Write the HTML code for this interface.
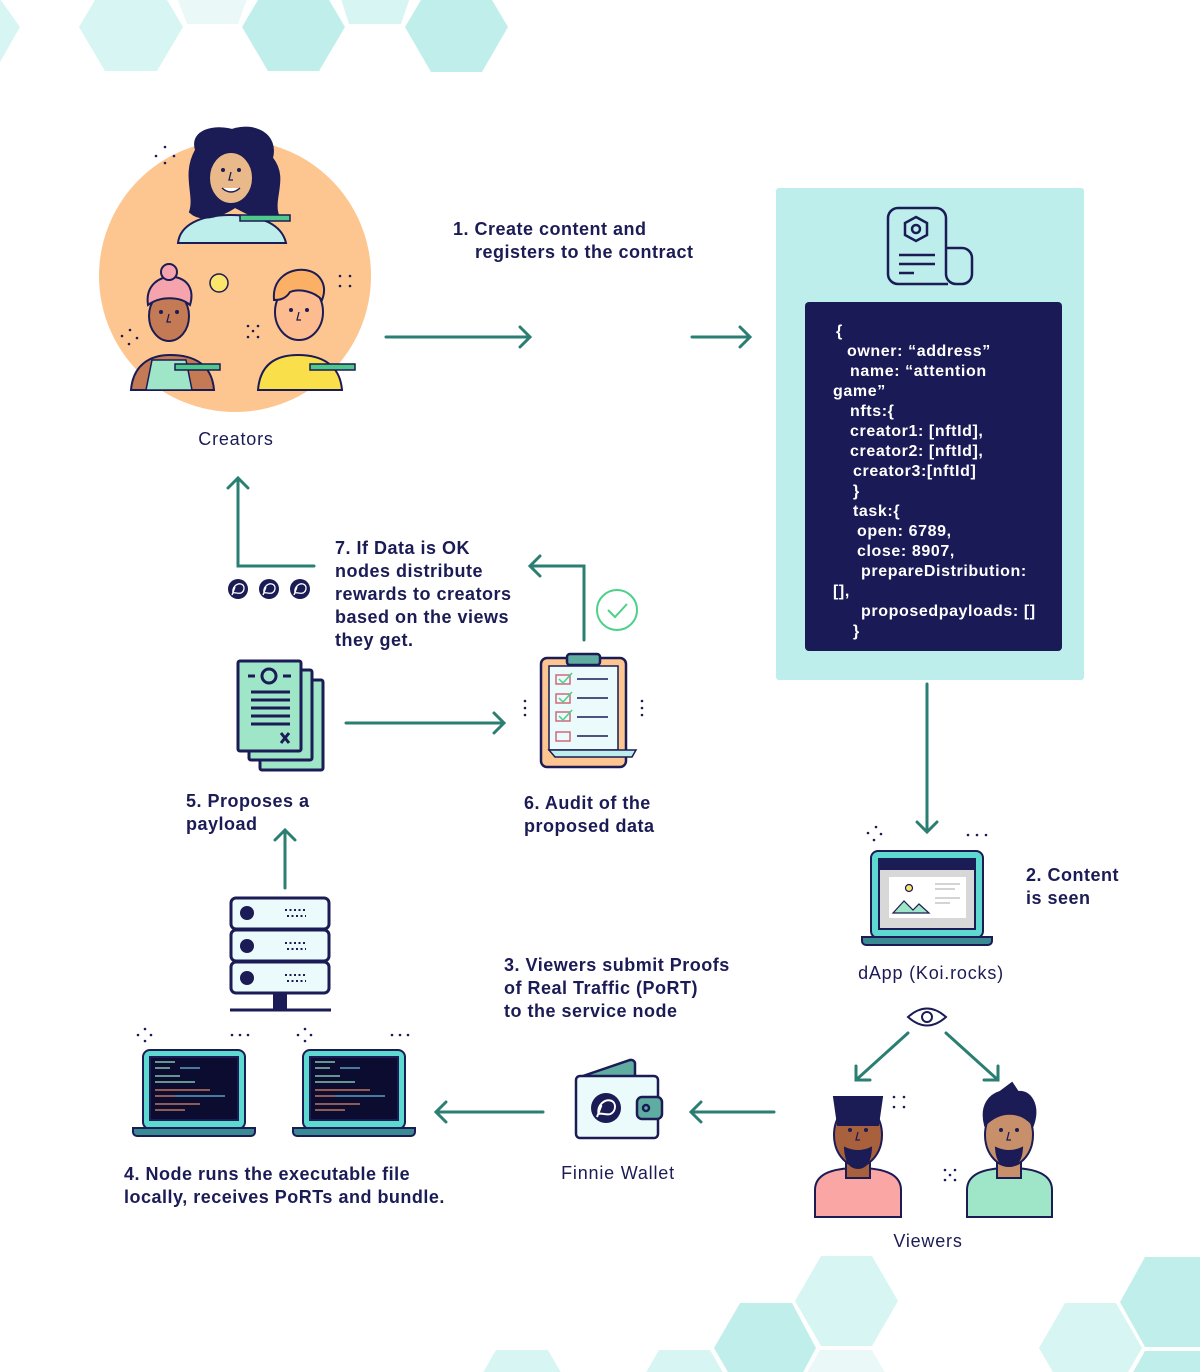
<!DOCTYPE html>
<html><head><meta charset="utf-8"><style>
html,body{margin:0;padding:0;background:#fff;}
svg{display:block;}
text{font-family:"Liberation Sans",sans-serif;fill:#1b1b55;}
.b{font-weight:bold;font-size:18px;letter-spacing:0.5px;}
.n{font-size:18px;letter-spacing:0.8px;}
.c{font-weight:bold;font-size:16px;fill:#fff;letter-spacing:0.6px;}
</style></head><body>
<svg width="1200" height="1372" viewBox="0 0 1200 1372" xmlns="http://www.w3.org/2000/svg">
<defs>
<g id="koi"><circle r="10" fill="#1b1b55"/><path d="M-5,4 C-6,-2 -1,-6 3,-5 C7,-4 7,2 3,4 C0,5 -3,3 -5,4 M-6,6 L-3,-2" stroke="#fff" stroke-width="1.3" fill="none"/></g>
<g id="eyes"><circle cx="-8" cy="0" r="2" fill="#1b1b55"/><circle cx="8" cy="0" r="2" fill="#1b1b55"/><path d="M0,2 L-2,10 H2" stroke="#1b1b55" stroke-width="1.3" fill="none"/></g>
</defs>
<!-- top hexes -->
<polygon points="-10,-20 0,-1 20,27 0,62 -20,27" fill="#d7f5f3"/>
<polygon points="105,-17 157,-17 183,27 157,71 105,71 79,27" fill="#d7f5f3"/>
<polygon points="170,-20 254,-20 238,24 187,24" fill="#eaf9f8"/>
<polygon points="268,-17 319,-17 345,27 319,71 268,71 242,27" fill="#c0efeb"/>
<polygon points="335,-20 416,-20 401,24 349,24" fill="#d7f5f3"/>
<polygon points="431,-17 482,-17 508,27 482,72 431,72 405,27" fill="#c0efeb"/>
<!-- bottom hexes -->
<polygon points="821,1256 872,1256 898,1301 872,1346 821,1346 795,1301" fill="#d7f5f3"/>
<polygon points="740,1303 792,1303 816,1348 792,1393 740,1393 714,1348" fill="#c0efeb"/>
<polygon points="820,1350 872,1350 898,1395 794,1395" fill="#eaf9f8"/>
<polygon points="496,1350 548,1350 574,1395 470,1395" fill="#d7f5f3"/>
<polygon points="659,1350 710,1350 736,1395 633,1395" fill="#d7f5f3"/>
<polygon points="1145,1257 1210,1257 1210,1347 1145,1347 1120,1302" fill="#c0efeb"/>
<polygon points="1065,1303 1116,1303 1142,1348 1116,1393 1065,1393 1039,1348" fill="#d7f5f3"/>
<polygon points="1145,1351 1210,1351 1210,1395 1120,1395" fill="#c0efeb"/>

<!-- Creators circle -->
<circle cx="235" cy="276" r="136" fill="#fdc690"/>
<g stroke="#1b1b55" stroke-width="2">
<!-- woman top -->
<path d="M178,243 C180,225 200,215 230,215 C262,215 282,225 286,243 Z" fill="#bdeeeb"/>
<path d="M196,150 C190,130 215,125 232,130 C255,122 278,135 272,158 C288,178 272,198 278,215 C262,224 246,212 235,207 C224,214 203,224 190,212 C196,195 182,175 196,150Z" fill="#1b1b55"/>
<ellipse cx="231" cy="178" rx="22" ry="26" fill="#e9b98a"/>
<path d="M222,188 Q231,196 240,188" fill="#fff" stroke-width="1.5"/>
<!-- woman left -->
<path d="M131,390 C133,365 150,355 170,355 C195,355 212,365 214,390Z" fill="#c47a55"/>
<path d="M152,360 L186,360 L192,390 L146,390Z" fill="#9fe6c8" stroke-width="1.5"/>
<ellipse cx="169" cy="316" rx="20" ry="25" fill="#c47a55"/>
<path d="M148,305 C145,285 160,275 175,277 C190,280 194,292 190,305 C180,296 160,296 148,305Z" fill="#f5a3ad"/>
<circle cx="169" cy="272" r="8" fill="#f5a3ad"/>
<!-- man right -->
<path d="M258,390 C260,365 275,355 298,355 C322,355 340,365 342,390Z" fill="#f9e04b"/>
<ellipse cx="299" cy="312" rx="24" ry="28" fill="#fdbc90"/>
<path d="M274,300 C272,278 290,268 305,270 C320,272 328,285 322,300 C315,292 300,288 290,292 C285,300 278,300 274,300Z" fill="#fbb066"/>
<!-- pencils -->
<rect x="240" y="215" width="50" height="6" fill="#4fc98b" stroke-width="1.5"/>
<rect x="175" y="364" width="45" height="6" fill="#4fc98b" stroke-width="1.5"/>
<rect x="310" y="364" width="45" height="6" fill="#4fc98b" stroke-width="1.5"/>
</g>
<use href="#eyes" transform="translate(231,170)"/>
<use href="#eyes" transform="translate(169,312)"/>
<use href="#eyes" transform="translate(299,310)"/>
<circle cx="219" cy="283" r="9" fill="#fbe56b" stroke="#1b1b55" stroke-width="1.5"/>
<g fill="#1b1b55"><circle cx="156" cy="156" r="1.3"/><circle cx="165" cy="147" r="1.3"/><circle cx="174" cy="156" r="1.3"/><circle cx="165" cy="163" r="1.3"/>
<circle cx="340" cy="276" r="1.3"/><circle cx="350" cy="276" r="1.3"/><circle cx="340" cy="286" r="1.3"/><circle cx="350" cy="286" r="1.3"/>
<circle cx="122" cy="336" r="1.3"/><circle cx="130" cy="330" r="1.3"/><circle cx="137" cy="338" r="1.3"/><circle cx="129" cy="344" r="1.3"/>
<circle cx="248" cy="326" r="1.3"/><circle cx="258" cy="326" r="1.3"/><circle cx="253" cy="331" r="1.3"/><circle cx="248" cy="337" r="1.3"/><circle cx="258" cy="337" r="1.3"/></g>
<text x="236" y="445" class="n" text-anchor="middle">Creators</text>

<!-- arrows -->
<g stroke="#2a7f72" stroke-width="3" fill="none" stroke-linecap="round">
<path d="M386,337 H530 M520,327 L530,337 L520,347"/>
<path d="M692,337 H750 M740,327 L750,337 L740,347"/>
<path d="M927,684 V832 M917,822 L927,832 L937,822"/>
<path d="M908,1033 L856,1080 M856,1066 V1080 H870"/>
<path d="M946,1033 L998,1080 M998,1066 V1080 H984"/>
<path d="M774,1112 H691 M701,1102 L691,1112 L701,1122"/>
<path d="M543,1112 H436 M446,1102 L436,1112 L446,1122"/>
<path d="M285,888 V830 M275,840 L285,830 L295,840"/>
<path d="M346,723 H504 M494,713 L504,723 L494,733"/>
<path d="M584,640 V566 H530 M540,556 L530,566 L540,576"/>
<path d="M314,566 H238 V478 M228,488 L238,478 L248,488"/>
</g>

<text x="453" y="235" class="b">1. Create content and</text>
<text x="475" y="258" class="b">registers to the contract</text>

<!-- contract panel -->
<rect x="776" y="188" width="308" height="492" rx="3" fill="#bdeeeb"/>
<g stroke="#1b1b55" stroke-width="2.5" fill="none">
<path d="M948,284 H898 a10,10 0 0 1 -10,-10 V218 a10,10 0 0 1 10,-10 H936 a10,10 0 0 1 10,10 V274"/>
<path d="M946,248 H962 a10,10 0 0 1 10,10 V274 a10,10 0 0 1 -10,10 H956 a10,10 0 0 1 -10,-10"/>
<polygon points="916,217 927,223 927,235 916,241 905,235 905,223"/>
<circle cx="916" cy="229" r="4"/>
<path d="M899,255 H935 M899,264 H935 M899,273 H914"/>
</g>
<rect x="805" y="302" width="257" height="349" rx="4" fill="#1a1a56"/>
<text class="c" x="836" y="336">{</text>
<text class="c" x="847" y="356">owner:  “address”</text>
<text class="c" x="850" y="376">name:  “attention</text>
<text class="c" x="833" y="396">game”</text>
<text class="c" x="850" y="416">nfts:{</text>
<text class="c" x="850" y="436">creator1: [nftId],</text>
<text class="c" x="850" y="456">creator2: [nftId],</text>
<text class="c" x="853" y="476">creator3:[nftId]</text>
<text class="c" x="853" y="496">}</text>
<text class="c" x="853" y="516">task:{</text>
<text class="c" x="857" y="536">open: 6789,</text>
<text class="c" x="857" y="556">close: 8907,</text>
<text class="c" x="861" y="576">prepareDistribution:</text>
<text class="c" x="833" y="596">[],</text>
<text class="c" x="861" y="616">proposedpayloads: []</text>
<text class="c" x="853" y="636">}</text>

<!-- dApp laptop -->
<g stroke="#1b1b55" stroke-width="2">
<rect x="871" y="851" width="112" height="87" rx="7" fill="#5dd9d0"/>
<rect x="879" y="859" width="96" height="70" fill="#d8d8d8"/>
<rect x="879" y="859" width="96" height="10" fill="#1b1b55"/>
<rect x="889" y="877" width="77" height="41" fill="#fff" stroke="none"/>
<path d="M862,937 H992 V941 a4,4 0 0 1 -4,4 H866 a4,4 0 0 1 -4,-4Z" fill="#3a8a94"/>
<circle cx="909" cy="888" r="3.5" fill="#fbe56b" stroke-width="1.2"/>
<path d="M893,913 L904,901 L913,910 L919,904 L929,913Z" fill="#9fe6c8" stroke-width="1.2"/>
</g>
<g stroke="#bbb" stroke-width="1.2"><path d="M935,884 H960 M935,889 H955 M935,898 H960 M935,903 H950"/></g>
<g fill="#1b1b55"><circle cx="868" cy="833" r="1.3"/><circle cx="876" cy="827" r="1.3"/><circle cx="881" cy="834" r="1.3"/><circle cx="874" cy="840" r="1.3"/>
<circle cx="968" cy="835" r="1.3"/><circle cx="977" cy="835" r="1.3"/><circle cx="986" cy="835" r="1.3"/></g>
<text x="1026" y="881" class="b">2. Content</text>
<text x="1026" y="904" class="b">is seen</text>
<text x="931" y="979" class="n" text-anchor="middle">dApp (Koi.rocks)</text>

<!-- eye -->
<path d="M908,1017 Q927,1000 946,1017 Q927,1034 908,1017Z" fill="#fff" stroke="#1b1b55" stroke-width="2"/>
<circle cx="927" cy="1017" r="5" fill="none" stroke="#1b1b55" stroke-width="2"/>

<!-- viewers -->
<g stroke="#1b1b55" stroke-width="2">
<path d="M815,1217 V1190 C815,1175 830,1168 858,1168 C886,1168 901,1175 901,1190 V1217Z" fill="#f9a6a4"/>
<rect x="846" y="1150" width="24" height="28" fill="#a8613c"/>
<ellipse cx="858" cy="1135" rx="24" ry="31" fill="#a8613c"/>
<path d="M834,1097 H882 L878,1125 H838Z" fill="#1b1b55"/>
<path d="M845,1148 Q846,1168 858,1168 Q870,1168 871,1148 Q858,1154 845,1148Z" fill="#1b1b55"/>
<path d="M967,1217 V1190 C967,1175 982,1168 1009,1168 C1037,1168 1052,1175 1052,1190 V1217Z" fill="#9fe6c8"/>
<rect x="997" y="1150" width="24" height="28" fill="#c8906a"/>
<ellipse cx="1009" cy="1135" rx="24" ry="31" fill="#c8906a"/>
<path d="M985,1125 C980,1105 990,1095 1000,1092 L1012,1083 L1018,1092 C1030,1090 1040,1105 1033,1125 C1020,1110 1000,1110 985,1125Z" fill="#1b1b55"/>
<path d="M996,1148 Q997,1166 1009,1166 Q1021,1166 1022,1148 Q1009,1154 996,1148Z" fill="#1b1b55"/>
</g>
<use href="#eyes" transform="translate(858,1130)"/>
<use href="#eyes" transform="translate(1009,1130)"/>
<g fill="#1b1b55"><circle cx="894" cy="1097" r="1.3"/><circle cx="904" cy="1097" r="1.3"/><circle cx="894" cy="1107" r="1.3"/><circle cx="904" cy="1107" r="1.3"/>
<circle cx="945" cy="1170" r="1.3"/><circle cx="955" cy="1170" r="1.3"/><circle cx="950" cy="1175" r="1.3"/><circle cx="945" cy="1180" r="1.3"/><circle cx="955" cy="1180" r="1.3"/></g>
<text x="928" y="1247" class="n" text-anchor="middle">Viewers</text>

<!-- wallet -->
<g stroke="#1b1b55" stroke-width="2.5">
<path d="M580,1077 L630,1060 a4,4 0 0 1 5,3 V1077Z" fill="#5fada1"/>
<rect x="576" y="1076" width="82" height="62" rx="4" fill="#ebfbfb"/>
<rect x="637" y="1097" width="25" height="22" rx="5" fill="#5fada1"/>
<circle cx="646" cy="1108" r="3" fill="none"/>
</g>
<use href="#koi" transform="translate(606,1108) scale(1.5)"/>
<text x="618" y="1179" class="n" text-anchor="middle">Finnie Wallet</text>
<text x="504" y="971" class="b">3.  Viewers submit Proofs</text>
<text x="504" y="994" class="b">of Real Traffic (PoRT)</text>
<text x="504" y="1017" class="b">to the service node</text>

<!-- node laptops -->
<g id="lap">
<g stroke="#1b1b55" stroke-width="2">
<rect x="143" y="1050" width="102" height="79" rx="7" fill="#5dd9d0"/>
<rect x="150" y="1057" width="88" height="63" fill="#0c0c30"/>
<path d="M133,1128 H255 V1132 a4,4 0 0 1 -4,4 H137 a4,4 0 0 1 -4,-4Z" fill="#3a8a94"/>
</g>
<g stroke-width="1.2">
<path d="M155,1062 H175 M155,1068 H170 M155,1076 H180 M155,1082 H195" stroke="#9fe6c8"/>
<path d="M155,1090 H210 M155,1096 H175 M155,1104 H200 M155,1110 H185" stroke="#e08a6a"/>
<path d="M180,1068 H200 M175,1096 H225" stroke="#6ac0d8"/>
</g>
<g fill="#1b1b55"><circle cx="138" cy="1035" r="1.3"/><circle cx="145" cy="1029" r="1.3"/><circle cx="151" cy="1035" r="1.3"/><circle cx="145" cy="1041" r="1.3"/>
<circle cx="232" cy="1035" r="1.3"/><circle cx="240" cy="1035" r="1.3"/><circle cx="248" cy="1035" r="1.3"/></g>
</g>
<use href="#lap" transform="translate(160,0)"/>
<text x="124" y="1180" class="b">4. Node runs the executable file</text>
<text x="124" y="1203" class="b">locally, receives PoRTs and bundle.</text>

<!-- server -->
<g stroke="#1b1b55" stroke-width="3">
<rect x="231" y="898" width="98" height="31" rx="5" fill="#ebfbfb"/>
<rect x="231" y="930" width="98" height="31" rx="5" fill="#ebfbfb"/>
<rect x="231" y="962" width="98" height="31" rx="5" fill="#ebfbfb"/>
<path d="M230,1010 H331"/>
</g>
<rect x="273" y="994" width="14" height="16" fill="#1b1b55"/>
<g fill="#1b1b55"><circle cx="247" cy="913" r="7"/><circle cx="247" cy="946" r="7"/><circle cx="247" cy="978" r="7"/></g>
<g fill="none" stroke="#1b1b55" stroke-width="2" stroke-dasharray="2 2.5"><path d="M285,910 H306 M287,916 H306 M285,943 H306 M287,949 H306 M285,975 H306 M287,981 H306"/></g>
<text x="186" y="807" class="b">5. Proposes a</text>
<text x="186" y="830" class="b">payload</text>

<!-- docs stack -->
<g stroke="#1b1b55" stroke-width="3" fill="#9fe6c8">
<rect x="260" y="680" width="63" height="90" rx="2"/>
<rect x="249" y="670" width="63" height="90" rx="2"/>
<rect x="238" y="661" width="63" height="90" rx="2"/>
</g>
<g stroke="#1b1b55" stroke-width="3" fill="none">
<circle cx="269" cy="676" r="7"/><path d="M248,676 H255 M283,676 H291 M251,692 H290 M251,700 H290 M251,708 H290 M251,716 H290 M251,724 H290 M281,733 L289,743 M289,733 L281,743"/>
</g>

<!-- clipboard -->
<g stroke="#1b1b55" stroke-width="2.5">
<rect x="541" y="658" width="85" height="109" rx="6" fill="#fdc690"/>
<path d="M549,666 H618 V750 H549Z" fill="#ebfbfb" stroke-width="1.5"/>
<path d="M549,750 H636 L632,757 H555Z" fill="#bdeeeb" stroke-width="1.5"/>
<rect x="567" y="654" width="33" height="11" rx="3" fill="#5fada1"/>
</g>
<g stroke="#d06a7a" stroke-width="1.5" fill="none"><rect x="556" y="675" width="14" height="9"/><rect x="556" y="694" width="14" height="9"/><rect x="556" y="712" width="14" height="9"/><rect x="556" y="732" width="14" height="9"/></g>
<g stroke="#4dd08a" stroke-width="1.5" fill="none"><path d="M559,679 L563,683 L572,673 M559,698 L563,702 L572,692 M559,716 L563,720 L572,710"/></g>
<g stroke="#1b1b55" stroke-width="1.5"><path d="M577,679 H608 M577,698 H608 M577,717 H608 M577,736 H608"/></g>
<g fill="#1b1b55"><circle cx="525" cy="701" r="1.3"/><circle cx="525" cy="708" r="1.3"/><circle cx="525" cy="715" r="1.3"/><circle cx="642" cy="701" r="1.3"/><circle cx="642" cy="708" r="1.3"/><circle cx="642" cy="715" r="1.3"/></g>
<circle cx="617" cy="610" r="20" fill="#fff" stroke="#4dd08a" stroke-width="2"/>
<path d="M608,610 L615,617 L627,604" fill="none" stroke="#4dd08a" stroke-width="2"/>
<text x="524" y="809" class="b">6.  Audit of the</text>
<text x="524" y="832" class="b">proposed  data</text>

<text x="335" y="554" class="b">7. If Data is OK</text>
<text x="335" y="577" class="b">nodes distribute</text>
<text x="335" y="600" class="b">rewards to creators</text>
<text x="335" y="623" class="b">based on the views</text>
<text x="335" y="646" class="b">they get.</text>
<use href="#koi" transform="translate(238,589)"/>
<use href="#koi" transform="translate(269,589)"/>
<use href="#koi" transform="translate(300,589)"/>
</svg>
</body></html>
